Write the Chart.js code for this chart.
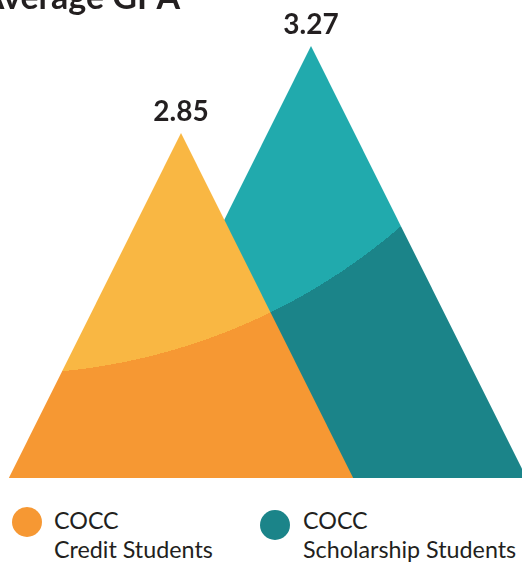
<!DOCTYPE html>
<html>
<head>
<meta charset="utf-8">
<script src="https://cdn.jsdelivr.net/npm/chart.js@4/dist/chart.umd.min.js"></script>
<style>
  body { margin: 0; background: #fff; }
  #wrap { position: relative; width: 522px; height: 563px; overflow: hidden; font-family: Lato, "Open Sans", sans-serif; color: #231f20; }
  #title { position: absolute; right: 342px; top: -21px; font-size: 34px; line-height: 34px; font-weight: 700; white-space: nowrap; }
  #grafica { position: absolute; left: 0; top: 0; }
  .dot { position: absolute; width: 30px; height: 30px; border-radius: 50%; }
  .txt { position: absolute; font-size: 23.3px; line-height: 29px; white-space: nowrap; }
</style>
</head>
<body>
<div id="wrap">
  <canvas id="grafica" width="522" height="480"></canvas>
  <div id="title">Average GPA</div>
  <div id="legend"></div>
</div>
<script>
const title = "Average GPA"
const groups = ["COCC", "COCC"]
const labels = ["Credit Students", "Scholarship Students"]
const gpa = [2.85, 3.27]
const positions = [1, 2]

const lightColors = ['#f9b743', '#21aaad']
const darkColors = ['#f69833', '#1b8489']

const yMin = 1.184
const yMax = 3.492
const spread = 0.795   // half width of a peak per GPA point above the base

// light top / dark bottom split along one big circle
function shade(i) {
    return function (context) {
        const chart = context.chart
        const area = chart.chartArea
        if (!area) return lightColors[i]
        const cx = area.left + 4
        const cy = area.top - 233
        const g = chart.ctx.createRadialGradient(cx, cy, 0, cx, cy, 1200)
        const t = 607 / 1200
        g.addColorStop(0, lightColors[i])
        g.addColorStop(t, lightColors[i])
        g.addColorStop(t, darkColors[i])
        g.addColorStop(1, darkColors[i])
        return g
    }
}

const datasets = gpa.map((v, i) => {
    const half = (v - yMin) * spread
    return {
        label: groups[i] + " " + labels[i],
        data: [
            { x: positions[i] - half, y: yMin },
            { x: positions[i], y: v },
            { x: positions[i] + half, y: yMin }
        ],
        fill: 'start',
        backgroundColor: shade(i),
        borderWidth: 0,
        pointRadius: 0,
        tension: 0
    }
});

const valueLabels = {
    id: 'valueLabels',
    afterDatasetsDraw(chart) {
        const ctx = chart.ctx
        ctx.save()
        ctx.font = 'bold 28px Lato, "Open Sans", sans-serif'
        ctx.fillStyle = '#231f20'
        ctx.textAlign = 'center'
        ctx.textBaseline = 'alphabetic'
        chart.data.datasets.forEach((ds, i) => {
            const top = chart.getDatasetMeta(i).data[1]
            ctx.fillText(gpa[i].toFixed(2), top.x, top.y - 12)
        })
        ctx.restore()
    }
}

const graph = document.querySelector("#grafica");

new Chart(graph, {
    type: 'line',
    data: { datasets: datasets },
    options: {
        responsive: false,
        animation: false,
        layout: { padding: { left: 0, right: 0, top: 0, bottom: 2 } },
        scales: {
            x: { type: 'linear', display: false, min: 1 - 181 / 130, max: 1 - 181 / 130 + 522 / 130 },
            y: { display: false, min: yMin, max: yMax }
        },
        plugins: {
            legend: { display: false },
            tooltip: { enabled: false }
        }
    },
    plugins: [valueLabels]
});

// legend below the peaks
const legend = document.querySelector("#legend")
const legendSpots = [{ dot: [12, 507], text: [54, 505.5] }, { dot: [260, 510], text: [303, 505.5] }]
labels.forEach((name, i) => {
    const dot = document.createElement('div')
    dot.className = 'dot'
    dot.style.left = legendSpots[i].dot[0] + 'px'
    dot.style.top = legendSpots[i].dot[1] + 'px'
    dot.style.background = darkColors[i]
    legend.appendChild(dot)
    const txt = document.createElement('div')
    txt.className = 'txt'
    txt.style.left = legendSpots[i].text[0] + 'px'
    txt.style.top = legendSpots[i].text[1] + 'px'
    txt.innerHTML = groups[i] + '<br>' + name
    legend.appendChild(txt)
});
</script>
</body>
</html>
